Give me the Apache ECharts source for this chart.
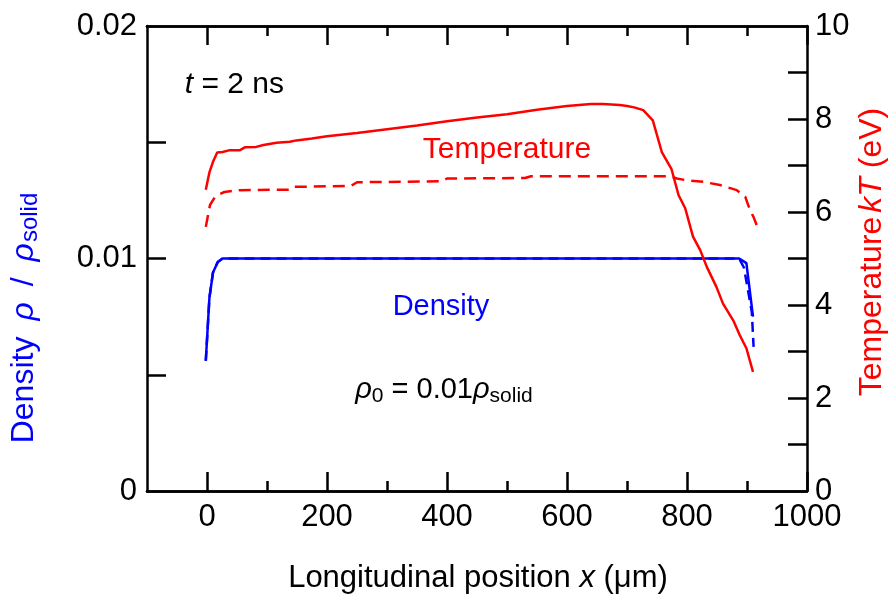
<!DOCTYPE html>
<html>
<head>
<meta charset="utf-8">
<script src="https://cdn.jsdelivr.net/npm/echarts@6/dist/echarts.min.js"></script>
<style>
  html, body { margin: 0; padding: 0; background: #ffffff; }
  #chart { width: 895px; height: 598px; }
</style>
</head>
<body>
<div id="chart"></div>
<script>
// Longitudinal profiles at t = 2 ns (x in micrometres)
const densitySolidX = [-2, 4, 10, 18, 26, 100, 300, 500, 700, 887, 899, 910];
const densitySolidY = [0.0056, 0.0083, 0.0094, 0.00985, 0.01, 0.01, 0.01, 0.01, 0.01, 0.01, 0.0098, 0.0075];

const densityDashX = [-2, 4, 10, 18, 26, 100, 300, 500, 700, 887, 895, 908, 911];
const densityDashY = [0.0056, 0.0083, 0.0094, 0.00985, 0.01, 0.01, 0.01, 0.01, 0.01, 0.01, 0.0096, 0.0077, 0.0062];

const tempSolidX = [-2, 4, 10, 17, 26, 38, 55, 63, 82, 94, 116, 138, 149, 175, 200, 250, 300, 350, 400, 450, 500, 550, 600, 640, 660, 688, 700, 712, 727, 743, 758, 774, 786, 797, 810, 822, 833, 849, 860, 877, 888, 899, 910];
const tempSolidY = [6.48, 6.85, 7.08, 7.28, 7.29, 7.33, 7.33, 7.39, 7.40, 7.44, 7.49, 7.51, 7.54, 7.58, 7.63, 7.70, 7.78, 7.86, 7.95, 8.03, 8.10, 8.20, 8.28, 8.32, 8.32, 8.30, 8.28, 8.25, 8.19, 7.97, 7.29, 6.93, 6.36, 6.08, 5.47, 5.18, 4.82, 4.39, 4.03, 3.67, 3.35, 3.07, 2.56];

const tempDashX = [-2, 5, 14, 29, 54, 138, 144, 240, 250, 390, 400, 530, 540, 772, 783, 800, 827, 855, 883, 897, 905, 911, 916];
const tempDashY = [5.68, 6.15, 6.34, 6.43, 6.47, 6.48, 6.54, 6.56, 6.64, 6.66, 6.72, 6.73, 6.77, 6.77, 6.72, 6.68, 6.65, 6.58, 6.47, 6.33, 6.04, 5.89, 5.72];

// Axis ticks and labels
const xMajorTicks = [0, 200, 400, 600, 800, 1000];
const xMinorTicks = [100, 300, 500, 700, 900];
const densityTicks = [0.005, 0.01, 0.015];
const densityLabels = [0, 0.01, 0.02];
const tempTicks = [1, 2, 3, 4, 5, 6, 7, 8, 9];
const tempLabels = [0, 2, 4, 6, 8, 10];

const FONT = 'Liberation Sans, Arial, Helvetica, sans-serif';
const BLUE = '#0000ff';
const RED = '#ff0000';
const AXIS_W = 2.5;
const LINE_W = 2.5;

function zip(xs, ys) { return xs.map((x, i) => [x, ys[i]]); }

function xAxisDef(position, ticks, len, showLabels) {
  return {
    type: 'value', position: position, min: -100, max: 1000,
    axisLine: { show: true, onZero: false, lineStyle: { color: '#000', width: AXIS_W } },
    axisTick: { show: true, inside: true, length: len, customValues: ticks, lineStyle: { color: '#000', width: AXIS_W } },
    axisLabel: showLabels ? {
      show: true, customValues: xMajorTicks, color: '#000', fontSize: 31, fontFamily: FONT, margin: 11,
      formatter: v => String(v)
    } : { show: false },
    splitLine: { show: false }
  };
}

const chart = echarts.init(document.getElementById('chart'), null, { renderer: 'canvas' });

chart.setOption({
  animation: false,
  backgroundColor: '#ffffff',
  grid: { left: 147, right: 88, top: 26, bottom: 107, containLabel: false, outerBoundsMode: 'none' },
  xAxis: [
    xAxisDef('bottom', xMajorTicks, 19, true),
    xAxisDef('bottom', xMinorTicks, 10, false),
    xAxisDef('top', xMajorTicks, 19, false),
    xAxisDef('top', xMinorTicks, 10, false)
  ],
  yAxis: [
    {
      type: 'value', position: 'left', min: 0, max: 0.02,
      axisLine: { show: true, onZero: false, lineStyle: { color: '#000', width: AXIS_W } },
      axisTick: { show: true, inside: true, length: 19, customValues: densityTicks, lineStyle: { color: '#000', width: AXIS_W } },
      axisLabel: {
        show: true, customValues: densityLabels, color: '#000', fontSize: 31, fontFamily: FONT, margin: 10,
        formatter: v => (v === 0 ? '0' : v.toFixed(2))
      },
      splitLine: { show: false }
    },
    {
      type: 'value', position: 'right', min: 0, max: 10,
      axisLine: { show: true, onZero: false, lineStyle: { color: '#000', width: AXIS_W } },
      axisTick: { show: true, inside: true, length: 19, customValues: tempTicks, lineStyle: { color: '#000', width: AXIS_W } },
      axisLabel: { show: true, customValues: tempLabels, color: '#000', fontSize: 31, fontFamily: FONT, margin: 8 },
      splitLine: { show: false }
    }
  ],
  series: [
    {
      name: 'Density', type: 'line', xAxisIndex: 0, yAxisIndex: 0, symbol: 'none',
      data: zip(densityDashX, densityDashY),
      lineStyle: { color: BLUE, width: LINE_W, type: [10, 6] }
    },
    {
      name: 'Density', type: 'line', xAxisIndex: 0, yAxisIndex: 0, symbol: 'none',
      data: zip(densitySolidX, densitySolidY),
      lineStyle: { color: BLUE, width: LINE_W }
    },
    {
      name: 'Temperature', type: 'line', xAxisIndex: 0, yAxisIndex: 1, symbol: 'none',
      data: zip(tempDashX, tempDashY),
      lineStyle: { color: RED, width: LINE_W, type: [12, 7] }
    },
    {
      name: 'Temperature', type: 'line', xAxisIndex: 0, yAxisIndex: 1, symbol: 'none',
      data: zip(tempSolidX, tempSolidY),
      lineStyle: { color: RED, width: LINE_W }
    }
  ]
});

// Annotations placed in data space (x in um, y on the temperature scale)
const at = (x, t) => chart.convertToPixel({ xAxisIndex: 0, yAxisIndex: 1 }, [x, t]);
const pTime = at(-37, 8.73);
const pTemp = at(500, 7.33);
const pDens = at(390, 3.95);
const pRho0 = at(395, 2.17);

chart.setOption({
  graphic: [
    {
      type: 'text', x: pTime[0], y: pTime[1],
      style: {
        text: '{i|t}{n| = 2 ns}', fill: '#000', align: 'left', verticalAlign: 'middle',
        rich: {
          i: { fontStyle: 'italic', fontFamily: FONT, fontSize: 30 },
          n: { fontFamily: FONT, fontSize: 30 }
        }
      }
    },
    {
      type: 'text', x: pTemp[0], y: pTemp[1],
      style: { text: 'Temperature', fill: RED, fontFamily: FONT, fontSize: 30, align: 'center', verticalAlign: 'middle' }
    },
    {
      type: 'text', x: pDens[0], y: pDens[1],
      style: { text: 'Density', fill: BLUE, fontFamily: FONT, fontSize: 29, align: 'center', verticalAlign: 'middle' }
    },
    {
      type: 'text', x: pRho0[0], y: pRho0[1],
      style: {
        text: '{g|ρ}{s|0}{n| = 0.01}{g|ρ}{s|solid}', fill: '#000', align: 'center', verticalAlign: 'middle',
        rich: {
          g: { fontStyle: 'italic', fontFamily: FONT, fontSize: 29, lineHeight: 34, verticalAlign: 'middle' },
          n: { fontFamily: FONT, fontSize: 29, lineHeight: 34, verticalAlign: 'middle' },
          s: { fontFamily: FONT, fontSize: 21, lineHeight: 20, verticalAlign: 'bottom', padding: [10, 0, 0, 0] }
        }
      }
    },
    {
      // left axis title
      type: 'text', x: 24, y: 318, rotation: Math.PI / 2,
      style: {
        text: '{n|Density}{g|ρ}{n|/}{h|ρ}{s|solid}', fill: BLUE, align: 'center', verticalAlign: 'middle',
        rich: {
          g: { fontStyle: 'italic', fontFamily: FONT, fontSize: 32, lineHeight: 36, verticalAlign: 'middle', padding: [0, 16, 0, 16] },
          h: { fontStyle: 'italic', fontFamily: FONT, fontSize: 32, lineHeight: 36, verticalAlign: 'middle', padding: [0, 1, 0, 16] },
          n: { fontFamily: FONT, fontSize: 32, lineHeight: 36, verticalAlign: 'middle' },
          s: { fontFamily: FONT, fontSize: 24, lineHeight: 22, verticalAlign: 'bottom', padding: [14, 0, 0, 0] }
        }
      }
    },
    {
      // right axis title
      type: 'text', x: 872, y: 252, rotation: Math.PI / 2,
      style: {
        text: '{n|Temperature}{i|kT}{n| (eV)}', fill: RED, align: 'center', verticalAlign: 'middle',
        rich: {
          n: { fontFamily: FONT, fontSize: 32 },
          i: { fontFamily: FONT, fontSize: 32, fontStyle: 'italic', padding: [0, 0, 0, 4] }
        }
      }
    },
    {
      // bottom axis title
      type: 'text', x: 478, y: 578,
      style: {
        text: '{n|Longitudinal position }{i|x}{n| (}{g|μ}{n|m)}', fill: '#000', align: 'center', verticalAlign: 'middle',
        rich: {
          n: { fontFamily: FONT, fontSize: 31 },
          i: { fontFamily: FONT, fontSize: 31, fontStyle: 'italic' },
          g: { fontFamily: FONT, fontSize: 31 }
        }
      }
    }
  ]
});
</script>
</body>
</html>
